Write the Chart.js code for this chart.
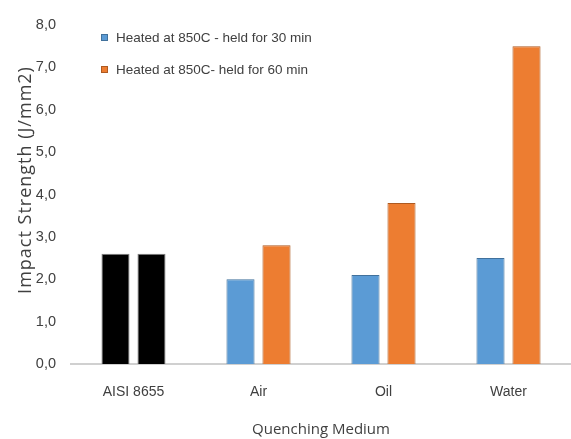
<!DOCTYPE html>
<html>
<head>
<meta charset="utf-8">
<script src="https://cdn.jsdelivr.net/npm/chart.js@4.4.1/dist/chart.umd.min.js"></script>
<style>
  html, body { margin: 0; padding: 0; background: #fff; }
  #wrap { width: 571px; height: 439px; }
</style>
</head>
<body>
<div id="wrap"><canvas id="c" width="571" height="439"></canvas></div>
<script>
// Quenching media and impact strength (J/mm2) per holding time
const categories = ['AISI 8655', 'Air', 'Oil', 'Water'];
const held30 = [2.6, 2.0, 2.1, 2.5];
const held60 = [2.6, 2.8, 3.8, 7.5];
const seriesNames = ['Heated at 850C - held for 30 min', 'Heated at 850C- held for 60 min'];
const yTicks = [0, 1, 2, 3, 4, 5, 6, 7, 8];
const xTitle = 'Quenching Medium';
const yTitle = 'Impact Strength (J/mm2)';

const WIDE = "'Open Sans', 'Noto Sans', sans-serif";
const NARROW = "'Liberation Sans', Arial, sans-serif";

const BLUE = '#5B9BD5', BLUE_EDGE = '#41719C';
const ORANGE = '#ED7D31', ORANGE_EDGE = '#AE5A21';
const BASE = '#000000', BASE_EDGE = '#7f7f7f';
const INK = '#404040';

// reference steel (first category) is shown in black for both series
const fills = (c) => categories.map((_, i) => i === 0 ? BASE : c);
const edges = (c) => categories.map((_, i) => i === 0 ? BASE_EDGE : c);

// legend stacked in the upper-left corner of the plot, plus the vertical axis title
const annotations = {
  id: 'annotations',
  afterDraw(chart) {
    const ctx = chart.ctx;
    ctx.save();
    ctx.font = '13.5px ' + NARROW;
    ctx.textBaseline = 'middle';
    const rows = [38, 70];
    chart.data.datasets.forEach((ds, i) => {
      const y = rows[i];
      ctx.fillStyle = ds.legendColor;
      ctx.strokeStyle = ds.legendEdge;
      ctx.lineWidth = 1;
      ctx.fillRect(101, y - 4, 7, 7);
      ctx.strokeRect(101.5, y - 3.5, 6, 6);
      ctx.fillStyle = INK;
      ctx.fillText(ds.label, 116, y);
    });
    ctx.translate(26, 180);
    ctx.rotate(-Math.PI / 2);
    ctx.textAlign = 'center';
    ctx.font = '18px ' + WIDE;
    ctx.letterSpacing = '1px';
    ctx.fillText(yTitle, 0, 0);
    ctx.restore();
  }
};

new Chart(document.getElementById('c'), {
  type: 'bar',
  data: {
    labels: categories,
    datasets: [
      {
        label: seriesNames[0],
        data: held30,
        backgroundColor: fills(BLUE),
        borderColor: edges(BLUE_EDGE),
        borderWidth: 1,
        legendColor: BLUE, legendEdge: BLUE_EDGE,
        categoryPercentage: 0.576,
        barPercentage: 0.78
      },
      {
        label: seriesNames[1],
        data: held60,
        backgroundColor: fills(ORANGE),
        borderColor: edges(ORANGE_EDGE),
        borderWidth: 1,
        legendColor: ORANGE, legendEdge: ORANGE_EDGE,
        categoryPercentage: 0.576,
        barPercentage: 0.78
      }
    ]
  },
  options: {
    responsive: false,
    animation: false,
    devicePixelRatio: 1,
    layout: { padding: { top: 25, right: 0, bottom: 0, left: 0 } },
    plugins: {
      legend: { display: false },
      tooltip: { enabled: false }
    },
    scales: {
      x: {
        grid: { display: false, drawTicks: false },
        border: { display: true, color: '#d0d0d0', width: 2 },
        ticks: { color: INK, font: { family: NARROW, size: 14 }, padding: 20, maxRotation: 0 },
        title: { display: true, text: xTitle, color: INK, font: { family: WIDE, size: 15 }, padding: { top: 0, bottom: 0 } },
        afterFit(s) { s.height = 75; }
      },
      y: {
        min: 0, max: 8,
        grid: { display: false, drawTicks: false },
        border: { display: false },
        afterBuildTicks(s) { s.ticks = yTicks.map(v => ({ value: v })); },
        ticks: {
          color: INK,
          font: { family: NARROW, size: 14.5 },
          padding: 15,
          callback: (v) => Number(v).toFixed(1).replace('.', ',')
        },
        afterFit(s) { s.width = 71; }
      }
    }
  },
  plugins: [annotations]
});
</script>
</body>
</html>
